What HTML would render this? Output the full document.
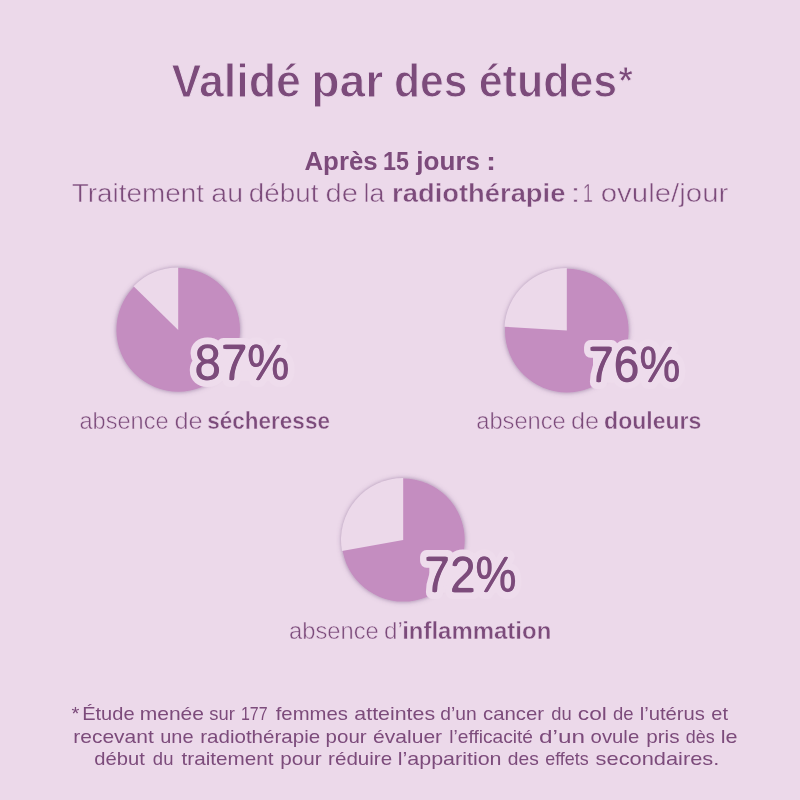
<!DOCTYPE html>
<html lang="fr"><head><meta charset="utf-8"><title>Validé par des études</title>
<style>
html,body{margin:0;padding:0;background:#ecd9ea;}
body{width:800px;height:800px;overflow:hidden;font-family:"Liberation Sans",sans-serif;}
svg{display:block}
text{font-family:"Liberation Sans",sans-serif;fill:#7c4b7b;}
.b{font-weight:bold}
.num{stroke:#eedcec;stroke-width:14px;stroke-linejoin:round;paint-order:stroke fill;}
.tb{stroke:#ecd9ea;stroke-width:1px;}
.t{stroke:#ecd9ea;stroke-width:0.5px;}
.t.b{stroke-width:0.4px;}
</style></head><body>
<svg width="800" height="800" viewBox="0 0 800 800">
<defs><filter id="th" x="-15%" y="-30%" width="130%" height="160%" color-interpolation-filters="sRGB"><feColorMatrix in="SourceGraphic" type="matrix" values="0 0 0 0 0  0 0 0 0 0  0 0 0 0 0  -4 0 0 2.9 0" result="m"/><feGaussianBlur in="m" stdDeviation="0.9" result="b"/><feComponentTransfer in="b" result="t"><feFuncA type="linear" slope="3.5" intercept="-0.65"/></feComponentTransfer><feFlood flood-color="#7c4b7b"/><feComposite in2="t" operator="in" result="c"/><feMerge><feMergeNode in="SourceGraphic"/><feMergeNode in="c"/></feMerge></filter><filter id="sh" x="-20%" y="-20%" width="140%" height="140%"><feDropShadow dx="0" dy="0" stdDeviation="2.8" flood-color="#6b4a7a" flood-opacity="0.62"/></filter></defs>
<rect width="800" height="800" fill="#ecd9ea"/>
<circle cx="178.2" cy="329.9" r="61.8" fill="#c48dc0" filter="url(#sh)"/>
<path d="M178.2 329.9 L178.2 267.40 A62.50 62.50 0 0 0 133.55 286.17 Z" fill="#ecd9ea"/>
<circle cx="566.8" cy="330.6" r="61.8" fill="#c48dc0" filter="url(#sh)"/>
<path d="M566.8 330.6 L566.8 268.10 A62.50 62.50 0 0 0 504.42 326.68 Z" fill="#ecd9ea"/>
<circle cx="403.2" cy="540.1" r="61.5" fill="#c48dc0" filter="url(#sh)"/>
<path d="M403.2 540.1 L403.2 477.90 A62.20 62.20 0 0 0 341.96 551.01 Z" fill="#ecd9ea"/>
<text><tspan x="171.58" y="97.2" textLength="129.22" lengthAdjust="spacingAndGlyphs" font-size="45.6" class="b tb">Validé</tspan> <tspan x="311.16" y="97.2" textLength="72.26" lengthAdjust="spacingAndGlyphs" font-size="45.6" class="b tb">par</tspan> <tspan x="394.06" y="97.2" textLength="73.38" lengthAdjust="spacingAndGlyphs" font-size="45.6" class="b tb">des</tspan> <tspan x="478.70" y="97.2" textLength="138.50" lengthAdjust="spacingAndGlyphs" font-size="45.6" class="b tb">études</tspan><tspan x="618.60" y="94" textLength="14.30" lengthAdjust="spacingAndGlyphs" font-size="38" class="b tb">*</tspan></text>
<text><tspan x="304.48" y="170" textLength="73.18" lengthAdjust="spacingAndGlyphs" font-size="25" class="b">Après</tspan> <tspan x="383.08" y="170" textLength="25.94" lengthAdjust="spacingAndGlyphs" font-size="25" class="b">15</tspan> <tspan x="416.38" y="170" textLength="63.66" lengthAdjust="spacingAndGlyphs" font-size="25" class="b">jours</tspan> <tspan x="485.92" y="170" textLength="10.04" lengthAdjust="spacingAndGlyphs" font-size="25" class="b">:</tspan></text>
<text><tspan x="71.72" y="201.5" textLength="132.18" lengthAdjust="spacingAndGlyphs" font-size="25" class="t">Traitement</tspan> <tspan x="211.34" y="201.5" textLength="31.74" lengthAdjust="spacingAndGlyphs" font-size="25" class="t">au</tspan> <tspan x="248.82" y="201.5" textLength="69.58" lengthAdjust="spacingAndGlyphs" font-size="25" class="t">début</tspan> <tspan x="325.46" y="201.5" textLength="32.46" lengthAdjust="spacingAndGlyphs" font-size="25" class="t">de</tspan> <tspan x="363.44" y="201.5" textLength="20.96" lengthAdjust="spacingAndGlyphs" font-size="25" class="t">la</tspan> <tspan x="392.06" y="201.5" textLength="173.34" lengthAdjust="spacingAndGlyphs" font-size="25" class="t b">radiothérapie</tspan> <tspan x="570.20" y="201.5" textLength="10.52" lengthAdjust="spacingAndGlyphs" font-size="25" class="t">:</tspan> <tspan x="582.80" y="201.5" textLength="10.22" lengthAdjust="spacingAndGlyphs" font-size="25" class="t">1</tspan> <tspan x="600.70" y="201.5" textLength="127.70" lengthAdjust="spacingAndGlyphs" font-size="25" class="t">ovule/jour</tspan></text>
<text><tspan x="79.46" y="429.3" textLength="89.08" lengthAdjust="spacingAndGlyphs" font-size="23.7" class="t">absence</tspan> <tspan x="174.46" y="429.3" textLength="28.10" lengthAdjust="spacingAndGlyphs" font-size="23.7" class="t">de</tspan> <tspan x="207.34" y="429.3" textLength="122.58" lengthAdjust="spacingAndGlyphs" font-size="23.7" class="t b">sécheresse</tspan></text>
<text><tspan x="476.22" y="429.3" textLength="89.58" lengthAdjust="spacingAndGlyphs" font-size="23.7" class="t">absence</tspan> <tspan x="571.08" y="429.3" textLength="28.10" lengthAdjust="spacingAndGlyphs" font-size="23.7" class="t">de</tspan> <tspan x="604.10" y="429.3" textLength="97.18" lengthAdjust="spacingAndGlyphs" font-size="23.7" class="t b">douleurs</tspan></text>
<text><tspan x="289.10" y="639.2" textLength="89.70" lengthAdjust="spacingAndGlyphs" font-size="23.7" class="t">absence</tspan> <tspan x="383.96" y="639.2" textLength="18.84" lengthAdjust="spacingAndGlyphs" font-size="23.7" class="t">d’</tspan><tspan x="402.20" y="639.2" textLength="149.10" lengthAdjust="spacingAndGlyphs" font-size="23.7" class="t b">inflammation</tspan></text>
<text><tspan x="71.50" y="720.2" textLength="7.90" lengthAdjust="spacingAndGlyphs" font-size="18.5" class="f">*</tspan> <tspan x="82.20" y="720.2" textLength="52.34" lengthAdjust="spacingAndGlyphs" font-size="18.5" class="f">Étude</tspan> <tspan x="139.70" y="720.2" textLength="64.32" lengthAdjust="spacingAndGlyphs" font-size="18.5" class="f">menée</tspan> <tspan x="209.22" y="720.2" textLength="25.54" lengthAdjust="spacingAndGlyphs" font-size="18.5" class="f">sur</tspan> <tspan x="240.96" y="720.2" textLength="26.68" lengthAdjust="spacingAndGlyphs" font-size="18.5" class="f">177</tspan> <tspan x="275.74" y="720.2" textLength="72.16" lengthAdjust="spacingAndGlyphs" font-size="18.5" class="f">femmes</tspan> <tspan x="354.36" y="720.2" textLength="80.74" lengthAdjust="spacingAndGlyphs" font-size="18.5" class="f">atteintes</tspan> <tspan x="440.34" y="720.2" textLength="36.32" lengthAdjust="spacingAndGlyphs" font-size="18.5" class="f">d’un</tspan> <tspan x="482.98" y="720.2" textLength="61.02" lengthAdjust="spacingAndGlyphs" font-size="18.5" class="f">cancer</tspan> <tspan x="551.36" y="720.2" textLength="20.42" lengthAdjust="spacingAndGlyphs" font-size="18.5" class="f">du</tspan> <tspan x="577.84" y="720.2" textLength="28.96" lengthAdjust="spacingAndGlyphs" font-size="18.5" class="f">col</tspan> <tspan x="613.10" y="720.2" textLength="20.54" lengthAdjust="spacingAndGlyphs" font-size="18.5" class="f">de</tspan> <tspan x="639.70" y="720.2" textLength="65.20" lengthAdjust="spacingAndGlyphs" font-size="18.5" class="f">l’utérus</tspan> <tspan x="711.36" y="720.2" textLength="16.66" lengthAdjust="spacingAndGlyphs" font-size="18.5" class="f">et</tspan></text>
<text><tspan x="73.34" y="742.5" textLength="80.42" lengthAdjust="spacingAndGlyphs" font-size="18.5" class="f">recevant</tspan> <tspan x="160.22" y="742.5" textLength="33.30" lengthAdjust="spacingAndGlyphs" font-size="18.5" class="f">une</tspan> <tspan x="200.22" y="742.5" textLength="119.94" lengthAdjust="spacingAndGlyphs" font-size="18.5" class="f">radiothérapie</tspan> <tspan x="325.58" y="742.5" textLength="41.06" lengthAdjust="spacingAndGlyphs" font-size="18.5" class="f">pour</tspan> <tspan x="373.10" y="742.5" textLength="69.04" lengthAdjust="spacingAndGlyphs" font-size="18.5" class="f">évaluer</tspan> <tspan x="449.34" y="742.5" textLength="83.70" lengthAdjust="spacingAndGlyphs" font-size="18.5" class="f">l’efficacité</tspan> <tspan x="539.10" y="742.5" textLength="45.94" lengthAdjust="spacingAndGlyphs" font-size="18.5" class="f">d’un</tspan> <tspan x="590.60" y="742.5" textLength="48.60" lengthAdjust="spacingAndGlyphs" font-size="18.5" class="f">ovule</tspan> <tspan x="646.22" y="742.5" textLength="33.30" lengthAdjust="spacingAndGlyphs" font-size="18.5" class="f">pris</tspan> <tspan x="685.84" y="742.5" textLength="28.80" lengthAdjust="spacingAndGlyphs" font-size="18.5" class="f">dès</tspan> <tspan x="720.70" y="742.5" textLength="16.82" lengthAdjust="spacingAndGlyphs" font-size="18.5" class="f">le</tspan></text>
<text><tspan x="94.36" y="764.6" textLength="50.40" lengthAdjust="spacingAndGlyphs" font-size="18.5" class="f">début</tspan> <tspan x="152.86" y="764.6" textLength="20.54" lengthAdjust="spacingAndGlyphs" font-size="18.5" class="f">du</tspan> <tspan x="181.50" y="764.6" textLength="92.02" lengthAdjust="spacingAndGlyphs" font-size="18.5" class="f">traitement</tspan> <tspan x="280.22" y="764.6" textLength="41.42" lengthAdjust="spacingAndGlyphs" font-size="18.5" class="f">pour</tspan> <tspan x="328.10" y="764.6" textLength="64.04" lengthAdjust="spacingAndGlyphs" font-size="18.5" class="f">réduire</tspan> <tspan x="397.72" y="764.6" textLength="103.82" lengthAdjust="spacingAndGlyphs" font-size="18.5" class="f">l’apparition</tspan> <tspan x="507.84" y="764.6" textLength="30.94" lengthAdjust="spacingAndGlyphs" font-size="18.5" class="f">des</tspan> <tspan x="545.22" y="764.6" textLength="43.42" lengthAdjust="spacingAndGlyphs" font-size="18.5" class="f">effets</tspan> <tspan x="595.60" y="764.6" textLength="123.70" lengthAdjust="spacingAndGlyphs" font-size="18.5" class="f">secondaires.</tspan></text>
<rect x="199.2" y="346.8" width="86.5" height="34" fill="#eedcec"/>
<text transform="translate(194.58,379.8) scale(0.9622,1)" font-size="49.3" class="num" filter="url(#th)">87%</text>
<rect x="593.0" y="348.6" width="83.0" height="34" fill="#eedcec"/>
<text transform="translate(588.20,381.6) scale(0.9337,1)" font-size="49.3" class="num" filter="url(#th)">76%</text>
<rect x="429.3" y="558.6" width="82.7" height="34" fill="#eedcec"/>
<text transform="translate(424.32,591.6) scale(0.9356,1)" font-size="49.3" class="num" filter="url(#th)">72%</text>
</svg>
</body></html>
